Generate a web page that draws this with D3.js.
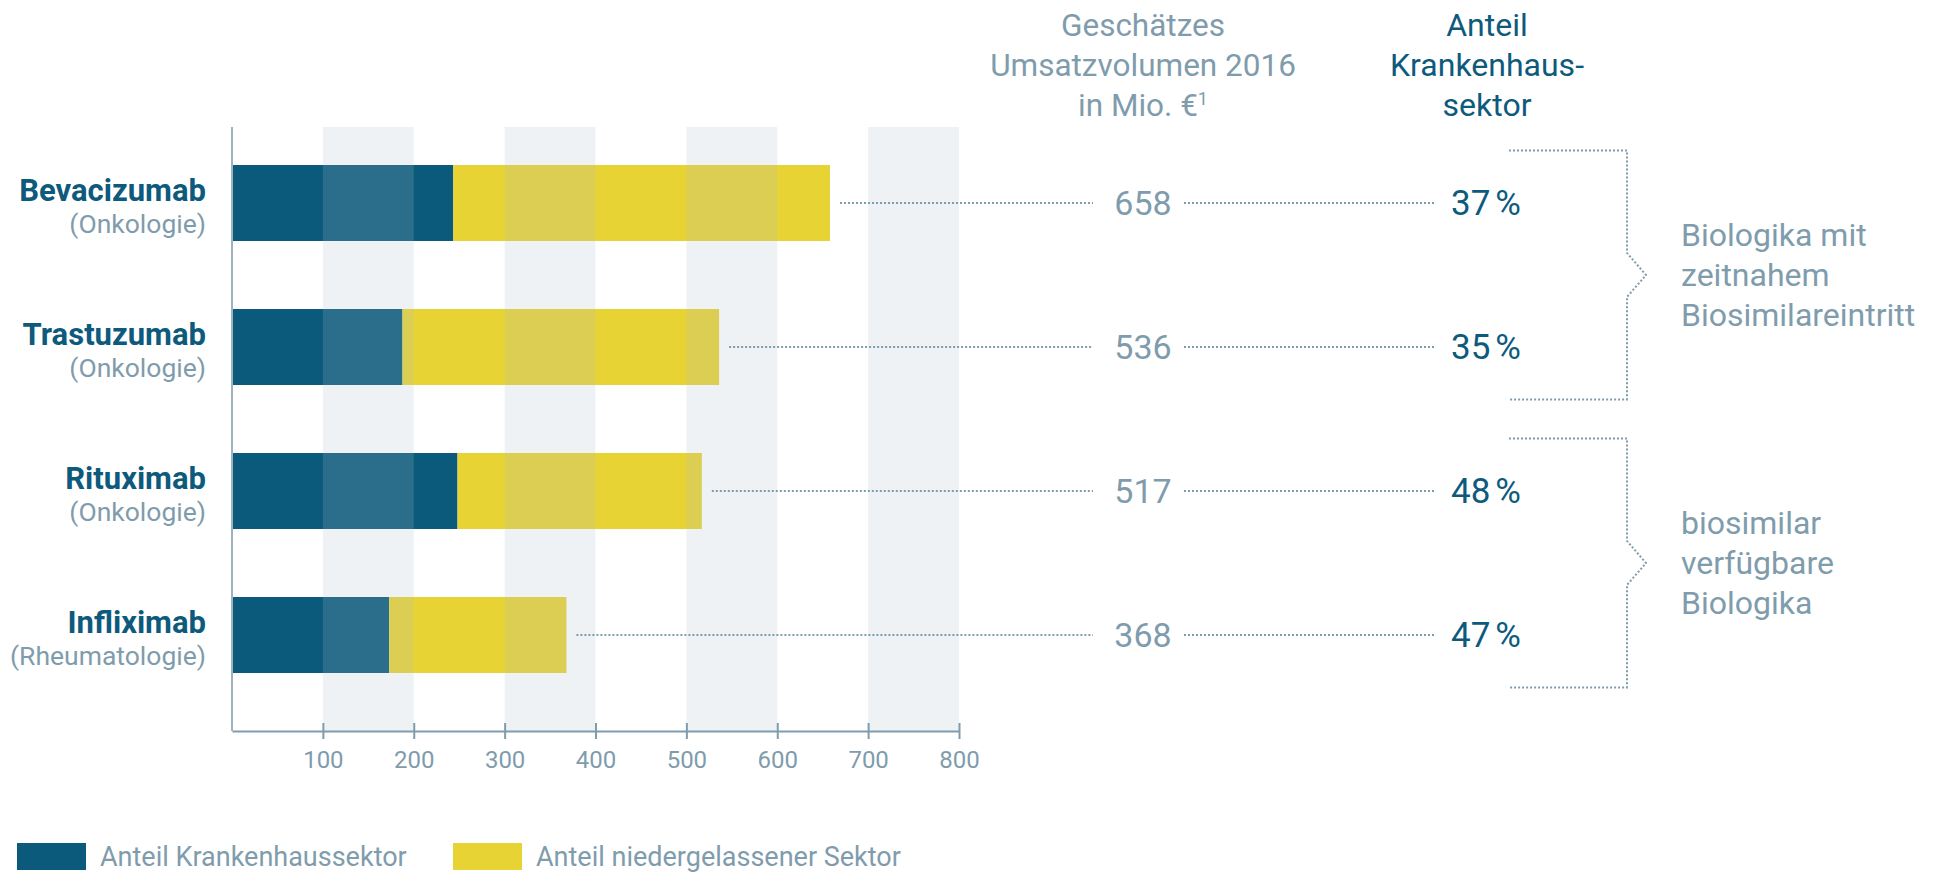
<!DOCTYPE html>
<html>
<head>
<meta charset="utf-8">
<script src="https://cdn.jsdelivr.net/npm/d3@7"></script>
<style>
  body { margin: 0; background: #fff; }
  svg text { font-family: Roboto, "DejaVu Sans Condensed", sans-serif; }
</style>
</head>
<body>
<div id="chart"></div>
<script>
// Data
var drugs = ["Bevacizumab", "Trastuzumab", "Rituximab", "Infliximab"];
var areas = ["(Onkologie)", "(Onkologie)", "(Onkologie)", "(Rheumatologie)"];
var totals = [658, 536, 517, 368];          // Umsatzvolumen 2016 in Mio. €
var hospitalShare = [37, 35, 48, 47];       // Anteil Krankenhaussektor in %
var xTicks = [100, 200, 300, 400, 500, 600, 700, 800];
var bandStarts = [100, 300, 500, 700];
var groups = [
    {lines: ["Biologika mit", "zeitnahem", "Biosimilareintritt"], from: 0, to: 1},
    {lines: ["biosimilar", "verfügbare", "Biologika"], from: 2, to: 3}
];

var W = 1948, H = 873;
var darkBlue = "#0b5a7c", yellow = "#e8d335", grey = "#7f9cad", labelBlue = "#0d5a7d";

var svg = d3.select("#chart").append("svg")
    .attr("width", W)
    .attr("height", H);

// Scales
var x = d3.scaleLinear().domain([0, 800]).range([232, 959]);
var y = d3.scaleBand().domain(drugs)
    .range([165, 673])
    .paddingInner(68 / 144)
    .paddingOuter(0);
var plotTop = 127, plotBottom = 731;

var data = drugs.map(function(d, i) {
    return {name: d, area: areas[i], total: totals[i], pct: hospitalShare[i],
            hosp: totals[i] * hospitalShare[i] / 100};
});

// Bars
var bars = svg.append("g");
bars.selectAll(".hosp")
    .data(data)
    .enter().append("rect")
    .attr("x", x(0))
    .attr("y", function(d) { return y(d.name); })
    .attr("width", function(d) { return x(d.hosp) - x(0); })
    .attr("height", y.bandwidth())
    .attr("fill", darkBlue);
bars.selectAll(".rest")
    .data(data)
    .enter().append("rect")
    .attr("x", function(d) { return x(d.hosp); })
    .attr("y", function(d) { return y(d.name); })
    .attr("width", function(d) { return x(d.total) - x(d.hosp); })
    .attr("height", y.bandwidth())
    .attr("fill", yellow);

// Grey bands drawn on top of the bars
svg.append("g").selectAll("rect")
    .data(bandStarts)
    .enter().append("rect")
    .attr("x", function(d) { return x(d); })
    .attr("y", plotTop)
    .attr("width", function(d) { return x(d + 100) - x(d); })
    .attr("height", plotBottom - plotTop)
    .attr("fill", "rgb(169,190,199)")
    .attr("opacity", 0.2);

// Y axis line
svg.append("line")
    .attr("x1", x(0)).attr("x2", x(0))
    .attr("y1", plotTop).attr("y2", plotBottom)
    .attr("stroke", "#9db3bf")
    .attr("stroke-width", 2);

// X axis
var xAxis = d3.axisBottom(x).tickValues(xTicks).tickSizeOuter(0).tickSizeInner(8).tickPadding(12);
var gx = svg.append("g")
    .attr("transform", "translate(0," + plotBottom + ")")
    .call(xAxis);
gx.select(".domain").attr("stroke", grey).attr("stroke-width", 2);
gx.selectAll(".tick line").attr("y1", -8).attr("y2", 8).attr("stroke", grey).attr("stroke-width", 2);
gx.selectAll(".tick text")
    .attr("fill", grey)
    .style("font-size", "24px")
    .attr("font-family", null);

// Category labels
var labels = svg.append("g");
labels.selectAll(".name")
    .data(data)
    .enter().append("text")
    .attr("x", 206)
    .attr("y", function(d) { return y(d.name) + y.bandwidth() / 2 - 2; })
    .attr("text-anchor", "end")
    .attr("fill", labelBlue)
    .style("font-size", "31px")
    .style("font-weight", "bold")
    .text(function(d) { return d.name; });
labels.selectAll(".area")
    .data(data)
    .enter().append("text")
    .attr("x", 206)
    .attr("y", function(d) { return y(d.name) + y.bandwidth() / 2 + 30; })
    .attr("text-anchor", "end")
    .attr("fill", grey)
    .style("font-size", "26.5px")
    .text(function(d) { return d.area; });

// Leader lines, totals and percentages
var numX = 1143, pctX = 1451;
var leaders = svg.append("g");
data.forEach(function(d) {
    var cy = y(d.name) + y.bandwidth() / 2;
    leaders.append("line")
        .attr("x1", x(d.total) + 10).attr("x2", 1093)
        .attr("y1", cy).attr("y2", cy)
        .attr("stroke", grey).attr("stroke-width", 2)
        .attr("stroke-dasharray", "2,2");
    leaders.append("line")
        .attr("x1", 1184).attr("x2", 1436)
        .attr("y1", cy).attr("y2", cy)
        .attr("stroke", grey).attr("stroke-width", 2)
        .attr("stroke-dasharray", "2,2");
    leaders.append("text")
        .attr("x", numX)
        .attr("y", cy + 12)
        .attr("text-anchor", "middle")
        .attr("fill", grey)
        .style("font-size", "34px")
        .text(d.total);
    var t = leaders.append("text")
        .attr("x", pctX)
        .attr("y", cy + 12)
        .attr("fill", labelBlue)
        .style("font-size", "35px");
    t.append("tspan").text(d.pct);
    t.append("tspan").attr("dx", 5).text("%");
});

// Column headers
var header1 = ["Geschätzes", "Umsatzvolumen 2016", "in Mio. €"];
var header2 = ["Anteil", "Krankenhaus-", "sektor"];
header1.forEach(function(s, i) {
    var t = svg.append("text")
        .attr("x", numX)
        .attr("y", 36 + i * 40)
        .attr("text-anchor", "middle")
        .attr("fill", grey)
        .style("font-size", "31.5px")
        .text(s);
    if (i == 2) t.append("tspan").attr("dy", -11).style("font-size", "18px").text("1");
});
header2.forEach(function(s, i) {
    svg.append("text")
        .attr("x", 1487)
        .attr("y", 36 + i * 40)
        .attr("text-anchor", "middle")
        .attr("fill", labelBlue)
        .style("font-size", "32px")
        .text(s);
});

// Brackets with group labels
groups.forEach(function(g) {
    var c = (y(drugs[g.from]) + y(drugs[g.to]) + y.bandwidth()) / 2;
    var top = c - 124.5, bot = c + 124.5, bx = 1627;
    var path = d3.path();
    path.moveTo(1509, top);
    path.lineTo(bx, top);
    path.lineTo(bx, c - 22);
    path.lineTo(bx + 19, c);
    path.lineTo(bx, c + 22);
    path.lineTo(bx, bot);
    path.lineTo(1509, bot);
    svg.append("path")
        .attr("d", path.toString())
        .attr("fill", "none")
        .attr("stroke", grey)
        .attr("stroke-width", 2)
        .attr("stroke-dasharray", "2,2");
    g.lines.forEach(function(s, i) {
        svg.append("text")
            .attr("x", 1681)
            .attr("y", c + (i - 1) * 40 + 11)
            .attr("fill", grey)
            .style("font-size", "32px")
            .text(s);
    });
});

// Legend
var legend = [
    {label: "Anteil Krankenhaussektor", color: darkBlue, x: 17},
    {label: "Anteil niedergelassener Sektor", color: yellow, x: 453}
];
legend.forEach(function(l) {
    svg.append("rect")
        .attr("x", l.x).attr("y", 843)
        .attr("width", 69).attr("height", 27)
        .attr("fill", l.color);
    svg.append("text")
        .attr("x", l.x + 83)
        .attr("y", 866)
        .attr("fill", grey)
        .style("font-size", "27px")
        .text(l.label);
});
</script>
</body>
</html>
